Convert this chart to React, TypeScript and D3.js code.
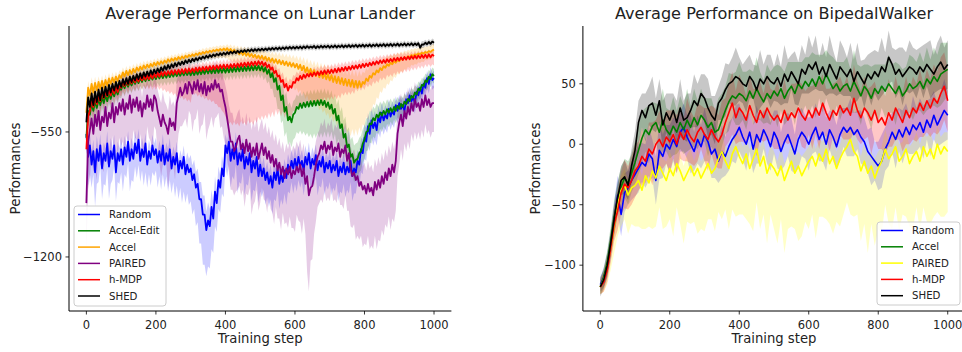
import React from "react";
import * as d3 from "d3";

// ================= DATA: Lunar Lander =================
// mean curves: steps 0..1000 every 5 ; band offsets: steps 0..1000 every 10
const llXTicks = [0, 200, 400, 600, 800, 1000];
const llYTicks = [-550, -1200];

const llRandomMean = [-560,-680,-620,-720,-650,-760,-640,-700,-620,-740,-660,-700,-610,-730,-650,-690,-620,-760,-660,-700,
-640,-720,-630,-680,-600,-700,-640,-690,-610,-660,-590,-700,-640,-680,-610,-720,-650,-690,-620,-670,
-640,-710,-650,-700,-620,-720,-660,-700,-640,-740,-680,-720,-660,-760,-700,-740,-680,-770,-720,-760,
-740,-800,-770,-840,-820,-900,-900,-980,-980,-1060,-1010,-1040,-940,-1000,-860,-920,-800,-840,-740,-780,
-620,-660,-600,-700,-640,-690,-610,-720,-660,-700,-640,-740,-680,-720,-660,-760,-700,-740,-680,-780,
-720,-780,-740,-800,-760,-820,-780,-840,-760,-800,-740,-820,-770,-810,-750,-790,-720,-760,-700,-740,
-690,-740,-680,-730,-700,-750,-680,-720,-660,-740,-690,-720,-670,-750,-700,-730,-680,-760,-710,-740,
-700,-760,-720,-750,-700,-780,-730,-760,-710,-770,-730,-760,-700,-780,-740,-760,-700,-720,-640,-660,
-580,-600,-520,-560,-490,-530,-500,-540,-470,-500,-450,-490,-460,-480,-430,-470,-440,-460,-410,-440,
-400,-430,-410,-440,-380,-400,-360,-390,-370,-400,-340,-360,-320,-350,-300,-320,-270,-300,-250,-280,
-270];
const llRandomUp = [60,70,60,70,60,55,65,70,55,60,65,
60,55,60,65,55,60,55,60,55,60,
55,60,55,60,55,60,55,60,65,70,
75,80,90,100,95,90,80,70,65,60,
60,55,60,55,60,55,60,55,60,55,
60,55,60,55,60,55,60,55,60,55,
60,55,60,55,60,55,60,55,60,55,
60,55,60,55,60,55,60,55,60,70,
70,65,60,55,55,50,50,48,46,44,
44,42,42,40,40,40,40,38,38,38];
const llRandomDn = [100,150,120,180,110,160,130,170,110,150,120,
140,110,160,120,130,110,150,120,140,110,
130,150,120,160,130,170,140,180,150,170,
180,200,230,260,240,220,180,150,130,110,
120,140,110,150,120,140,110,150,120,140,
110,130,120,140,110,130,120,140,110,130,
120,110,130,110,120,110,130,110,120,110,
120,110,130,110,120,110,130,110,120,110,
100,90,90,80,80,75,75,70,70,65,
65,60,60,55,55,55,50,50,50,50];

const llEditMean = [-580,-440,-460,-400,-440,-390,-425,-380,-410,-370,-400,-360,-390,-350,-378,-340,-365,-332,-355,-325,
-330,-300,-322,-294,-315,-288,-308,-282,-300,-276,-296,-270,-290,-266,-286,-262,-282,-260,-278,-256,
-275,-252,-272,-250,-270,-248,-268,-246,-265,-244,-262,-242,-260,-240,-258,-238,-256,-236,-254,-234,
-256,-234,-254,-232,-252,-230,-250,-228,-248,-226,-246,-224,-245,-222,-244,-220,-243,-219,-242,-218,
-242,-218,-240,-216,-238,-214,-236,-212,-235,-211,-234,-210,-232,-208,-231,-207,-230,-206,-228,-205,
-230,-208,-236,-214,-248,-226,-266,-244,-290,-270,-330,-310,-385,-360,-445,-420,-490,-470,-500,-460,
-450,-420,-430,-402,-425,-398,-420,-394,-418,-390,-415,-388,-412,-386,-410,-384,-410,-388,-420,-396,
-430,-408,-455,-430,-490,-465,-530,-510,-580,-560,-630,-615,-680,-665,-710,-695,-690,-660,-650,-610,
-590,-550,-545,-505,-510,-478,-490,-460,-475,-448,-465,-440,-458,-432,-450,-426,-445,-420,-440,-414,
-430,-404,-420,-392,-405,-378,-390,-362,-372,-345,-355,-325,-335,-305,-310,-282,-290,-262,-275,-250,
-258];
const llEditUp = [60,50,45,42,40,38,36,35,34,33,32,
32,31,30,30,30,29,29,28,28,28,
28,28,28,28,28,28,28,28,28,28,
28,28,28,28,28,28,28,28,28,28,
28,28,28,28,28,28,28,28,28,28,
30,32,40,50,60,70,80,80,75,70,
65,60,60,60,60,60,60,60,65,70,
75,80,85,90,90,90,90,85,80,75,
70,65,60,58,56,54,52,50,48,46,
44,42,40,40,38,38,36,36,35,35];
const llEditDn = [80,70,65,60,58,55,52,50,48,46,45,
44,43,42,42,42,42,42,42,42,42,
42,42,42,42,42,42,42,42,42,42,
42,42,42,42,42,42,42,42,42,42,
42,42,42,42,42,42,42,42,42,42,
45,50,60,80,100,120,130,130,130,130,
130,140,150,160,170,170,170,170,160,150,
140,130,120,110,100,100,100,100,100,100,
100,100,95,90,85,80,75,70,65,60,
58,56,54,52,50,48,46,44,42,40];

const llAccelMean = [-450,-320,-360,-300,-345,-295,-335,-290,-325,-285,-320,-280,-310,-272,-300,-268,-292,-262,-285,-255,
-270,-240,-262,-232,-255,-228,-248,-222,-240,-215,-232,-210,-226,-204,-220,-200,-215,-196,-210,-190,
-205,-186,-200,-182,-195,-178,-190,-172,-185,-168,-180,-165,-176,-160,-172,-157,-168,-153,-162,-150,
-158,-146,-155,-142,-150,-138,-146,-134,-142,-130,-138,-127,-134,-124,-130,-121,-128,-118,-126,-116,
-125,-114,-128,-118,-135,-122,-140,-128,-146,-132,-150,-136,-154,-140,-158,-144,-162,-148,-166,-152,
-170,-154,-174,-158,-180,-164,-186,-168,-190,-172,-194,-176,-198,-180,-202,-184,-206,-188,-210,-192,
-214,-196,-222,-200,-230,-206,-240,-214,-248,-222,-252,-228,-260,-234,-266,-240,-270,-246,-276,-250,
-282,-254,-290,-260,-296,-264,-300,-270,-306,-274,-310,-278,-314,-280,-318,-284,-320,-286,-316,-290,
-300,-272,-285,-258,-268,-244,-252,-230,-240,-218,-228,-208,-216,-198,-206,-190,-198,-182,-190,-176,
-182,-168,-175,-162,-168,-156,-162,-150,-156,-146,-150,-142,-146,-138,-142,-134,-138,-130,-134,-126,
-122];
const llAccelUp = [40,35,35,32,30,30,30,28,28,26,26,
26,25,25,25,24,24,24,23,23,22,
22,22,22,21,21,21,20,20,20,20,
20,20,20,20,20,20,20,20,20,20,
22,24,26,28,30,30,32,32,34,34,
36,36,38,38,40,40,40,42,42,44,
44,46,46,48,48,50,50,50,52,52,
52,54,54,55,55,55,56,56,56,55,
55,54,52,50,48,46,44,42,40,38,
36,35,34,33,32,31,30,30,30,30];
const llAccelDn = [60,55,55,50,50,48,46,45,44,42,40,
40,38,38,36,36,35,35,34,34,33,
33,32,32,31,31,30,30,30,30,30,
30,30,30,32,34,36,38,40,42,44,
50,55,60,60,65,65,70,70,72,75,
78,80,85,90,95,100,105,110,115,120,
125,130,140,145,150,160,170,180,190,200,
210,220,230,240,250,260,255,250,240,220,
200,180,160,140,120,110,100,90,80,70,
65,60,55,50,50,45,45,40,40,40];

const llPairedMean = [-920,-600,-540,-480,-560,-460,-520,-440,-540,-470,-500,-420,-520,-450,-480,-400,-500,-420,-460,-400,
-440,-380,-460,-400,-430,-360,-450,-380,-420,-370,-440,-390,-470,-400,-430,-360,-420,-380,-440,-360,
-380,-440,-480,-520,-460,-500,-520,-560,-480,-520,-500,-540,-400,-360,-320,-360,-340,-300,-350,-290,
-310,-350,-290,-330,-280,-340,-300,-350,-290,-360,-310,-340,-300,-330,-280,-320,-300,-340,-330,-380,
-420,-480,-540,-600,-600,-650,-630,-590,-570,-640,-610,-660,-590,-650,-610,-680,-630,-670,-610,-690,
-650,-610,-670,-630,-690,-650,-710,-670,-730,-690,-750,-710,-770,-730,-790,-740,-770,-730,-790,-750,
-770,-730,-760,-720,-780,-740,-820,-780,-880,-840,-830,-780,-720,-680,-660,-620,-640,-600,-660,-620,
-640,-600,-670,-630,-650,-610,-680,-640,-660,-620,-700,-660,-740,-780,-760,-800,-780,-830,-810,-850,
-830,-870,-820,-860,-840,-880,-810,-850,-800,-840,-780,-820,-760,-800,-740,-780,-720,-760,-700,-560,
-500,-460,-520,-440,-480,-420,-460,-400,-440,-380,-420,-400,-440,-380,-420,-360,-410,-380,-420,-400,
-400];
const llPairedUp = [150,130,120,120,120,110,110,120,110,110,110,
110,100,110,100,110,100,110,100,110,100,
110,120,110,120,110,120,110,100,100,100,
100,100,100,100,100,100,100,100,100,110,
130,150,150,140,140,140,140,140,140,140,
130,130,130,130,130,130,130,130,130,130,
130,130,130,130,130,120,120,120,120,120,
120,120,120,120,120,120,120,120,120,120,
120,120,120,120,120,120,120,120,120,120,
110,100,100,90,90,90,90,90,90,90];
const llPairedDn = [250,250,200,280,180,260,200,240,170,230,180,
220,170,230,160,220,170,240,160,220,160,
230,260,200,280,220,260,200,160,180,150,
200,150,220,160,230,170,200,150,190,200,
220,250,230,260,240,280,230,300,240,270,
230,280,240,300,250,290,240,280,260,300,
250,300,260,500,380,300,260,280,250,270,
240,270,250,290,260,300,270,310,280,300,
270,300,280,310,280,270,250,280,260,220,
180,170,180,160,170,150,160,150,160,150];

const llHmdpMean = [-640,-470,-440,-380,-420,-370,-405,-355,-390,-345,-375,-340,-365,-330,-360,-322,-350,-315,-342,-310,
-320,-288,-312,-282,-305,-276,-298,-270,-292,-266,-288,-260,-282,-258,-278,-254,-275,-250,-272,-248,
-265,-242,-262,-238,-258,-236,-255,-234,-252,-230,-250,-228,-248,-226,-246,-224,-244,-222,-242,-220,
-240,-220,-238,-216,-235,-214,-232,-212,-230,-210,-228,-208,-226,-206,-224,-204,-222,-202,-220,-200,
-220,-200,-218,-198,-216,-196,-214,-194,-212,-192,-210,-190,-208,-188,-206,-186,-204,-184,-202,-182,
-200,-184,-206,-190,-214,-200,-226,-214,-244,-232,-262,-256,-290,-280,-318,-300,-335,-310,-320,-290,
-295,-270,-282,-258,-275,-252,-268,-248,-262,-244,-260,-240,-256,-238,-254,-234,-250,-230,-248,-228,
-245,-226,-242,-222,-240,-218,-236,-216,-232,-212,-230,-210,-226,-206,-222,-204,-220,-200,-216,-196,
-212,-194,-208,-190,-204,-186,-200,-182,-196,-178,-192,-176,-190,-172,-186,-170,-184,-166,-180,-164,
-178,-162,-176,-160,-174,-158,-172,-156,-170,-154,-168,-152,-166,-150,-165,-148,-164,-146,-162,-148,
-155];
const llHmdpUp = [60,50,45,40,40,38,36,35,34,33,32,
32,31,30,30,30,29,29,28,28,28,
28,28,28,28,28,28,28,28,28,28,
28,28,28,28,28,28,28,28,28,28,
30,30,30,30,30,30,30,30,30,30,
30,30,32,34,36,38,40,40,38,36,
34,32,30,30,30,30,30,30,30,30,
30,30,30,30,30,30,30,30,30,30,
28,28,28,28,28,28,28,28,28,28,
26,26,26,26,26,26,26,26,26,26];
const llHmdpDn = [80,70,65,60,58,55,52,50,50,48,46,
46,45,45,45,46,48,50,55,60,65,
70,80,90,100,110,120,130,140,150,160,
120,130,140,150,160,170,180,200,220,250,
290,300,300,310,300,310,300,310,300,290,
280,270,250,230,200,180,160,150,150,150,
140,140,140,140,140,140,140,140,140,140,
140,140,140,130,130,130,130,120,120,120,
110,110,100,100,90,90,80,80,75,70,
70,65,65,60,60,55,55,50,50,50];

const llShedMean = [-500,-370,-420,-350,-410,-340,-395,-330,-385,-320,-370,-315,-360,-305,-345,-300,-335,-290,-325,-285,
-315,-275,-305,-270,-300,-262,-290,-258,-282,-250,-275,-245,-270,-240,-262,-236,-258,-230,-252,-226,
-245,-220,-240,-214,-232,-208,-226,-202,-220,-198,-214,-192,-208,-188,-202,-184,-198,-178,-192,-174,
-188,-170,-182,-166,-178,-162,-172,-158,-168,-154,-164,-150,-160,-147,-156,-144,-152,-140,-150,-138,
-148,-135,-145,-132,-142,-130,-140,-128,-138,-126,-135,-124,-133,-122,-131,-120,-130,-119,-128,-118,
-127,-117,-126,-116,-125,-114,-123,-113,-122,-112,-121,-111,-120,-110,-119,-109,-118,-108,-117,-108,
-116,-107,-115,-106,-116,-105,-114,-104,-113,-106,-112,-103,-114,-104,-112,-102,-111,-103,-110,-101,
-112,-102,-110,-100,-111,-101,-109,-99,-110,-100,-108,-98,-109,-99,-107,-97,-108,-98,-106,-96,
-107,-97,-105,-95,-106,-96,-104,-94,-105,-95,-103,-93,-104,-94,-102,-92,-103,-93,-101,-91,
-102,-92,-100,-90,-101,-91,-99,-89,-100,-90,-98,-88,-112,-95,-96,-86,-94,-82,-92,-80,
-86];
const llShedBand = [60,50,48,45,44,42,40,38,36,35,34,
33,32,31,30,30,29,28,27,26,26,
25,25,24,24,23,23,22,22,21,21,
20,20,20,19,19,19,18,18,18,18,
17,17,17,17,16,16,16,16,16,16,
15,15,15,15,15,15,15,15,15,15,
15,15,15,15,15,15,15,15,15,15,
15,15,15,15,15,15,15,15,15,15,
15,15,15,15,15,15,15,15,15,15,
15,15,15,15,15,15,18,16,16,16];

// ================= DATA: BipedalWalker (steps 0..1000, every 10) =================
const bwXTicks = [0, 200, 400, 600, 800, 1000];
const bwYTicks = [-100, -50, 0, 50];

const bwRandomMean = [-116,-110,-100,-84,-62,-42,-58,-40,-36,-30,-25,
-20,-15,-18,-8,-12,-30,-5,-10,0,-4,
4,-2,10,14,6,0,-6,4,-2,8,
2,-8,-4,-14,-6,-10,-2,4,8,14,
6,0,10,-4,8,2,12,6,-2,10,
4,-6,2,8,0,-8,4,10,6,0,
8,14,4,10,0,12,6,-2,8,14,
10,14,8,12,6,2,-6,-10,-14,-18,
-14,-4,2,10,4,12,6,14,8,16,
12,18,10,20,14,24,16,22,28,24];
const bwRandomBand = [6,8,10,12,14,16,18,16,14,16,18,
20,16,18,22,16,20,24,18,16,20,
18,22,16,20,18,24,16,20,18,22,
16,20,24,18,22,16,20,18,24,20,
18,22,16,20,24,18,16,22,20,18,
24,16,20,18,22,16,24,20,18,22,
16,20,18,24,22,16,20,18,22,16,
20,24,18,16,22,20,18,24,16,20,
22,18,20,16,24,18,22,20,16,24,
18,20,22,16,24,20,18,22,26,20];

const bwAccelMean = [-118,-110,-98,-80,-60,-45,-35,-28,-32,-24,-15,
-5,5,12,8,15,18,10,20,12,8,
15,10,18,12,20,14,22,16,24,20,
14,18,10,12,20,28,35,40,38,42,
40,36,44,38,46,40,35,42,38,44,
40,46,38,44,48,42,50,46,52,48,
54,48,56,50,58,52,46,50,44,48,
50,44,52,46,40,48,44,38,46,42,
48,44,50,46,42,48,40,44,50,46,
48,52,46,54,50,56,52,58,60,62];
const bwAccelBand = [6,8,10,12,14,14,16,16,18,16,18,
20,22,18,24,20,16,22,26,18,20,
24,18,22,20,26,18,24,20,22,18,
24,20,18,26,22,20,24,18,22,26,
20,24,18,22,26,20,18,24,22,20,
26,18,22,24,20,26,18,22,20,24,
22,26,18,24,20,22,26,18,24,20,
22,18,26,20,24,18,22,26,20,24,
18,22,24,20,26,18,22,20,24,26,
20,24,22,26,20,24,22,26,24,22];

const bwPairedMean = [-118,-112,-102,-86,-68,-50,-38,-34,-42,-36,-34,
-30,-38,-26,-32,-22,-28,-18,-24,-30,-20,
-26,-16,-22,-30,-24,-18,-26,-20,-28,-22,
-16,-24,-20,-12,-6,-14,-20,-8,-2,-10,
-16,-8,-20,-12,-4,-18,-10,-24,-16,-20,
-26,-18,-30,-22,-14,-24,-18,-26,-20,-14,
-10,-18,-8,-14,-4,-16,-10,-20,-12,-6,
-2,4,-6,-10,-22,-14,-24,-18,-28,-20,
-14,-4,-12,-8,-2,-14,-10,-4,-16,-10,
-6,-14,-2,-10,-4,-12,0,-8,-2,-6];
const bwPairedUp = [6,8,10,10,12,12,12,14,12,14,14,
14,12,16,14,12,16,14,12,16,14,
12,16,14,12,16,14,12,16,14,12,
16,14,12,16,14,12,16,14,12,16,
14,12,16,14,12,16,14,12,16,14,
12,16,14,12,16,14,12,16,14,12,
16,14,12,16,14,12,16,14,12,16,
14,12,16,14,12,16,14,12,16,14,
12,16,14,12,16,14,12,16,14,12,
16,14,12,16,14,12,16,14,12,16];
const bwPairedDn = [6,10,14,18,22,26,30,28,32,30,34,
38,32,44,36,48,40,34,46,38,42,
50,36,44,52,40,48,38,54,42,50,
46,38,52,44,56,40,50,46,58,48,
42,54,46,60,44,52,48,58,42,50,
56,44,60,48,54,46,62,50,44,56,
48,60,52,46,58,50,64,44,56,52,
46,62,54,48,58,52,66,48,56,50,
60,46,54,62,50,58,48,56,52,60,
46,58,50,54,62,48,56,52,58,50];

const bwHmdpMean = [-118,-114,-104,-86,-66,-55,-40,-33,-36,-30,-22,
-18,-10,-14,-4,-8,0,4,-2,6,2,
8,0,10,4,12,6,2,10,14,8,
4,12,6,2,8,18,26,34,22,30,
26,20,32,24,18,28,22,30,24,20,
24,18,28,20,26,22,30,24,20,28,
22,30,24,34,26,20,28,24,32,26,
30,24,38,28,22,30,26,20,28,18,
22,16,26,20,30,24,18,28,22,30,
26,34,28,36,30,38,34,42,48,36];
const bwHmdpBand = [6,8,10,12,14,16,18,20,18,20,22,
20,24,18,22,26,20,24,18,22,26,
20,24,22,18,26,22,20,24,18,22,
26,20,24,22,28,20,24,26,22,28,
24,20,26,22,28,24,20,26,22,24,
28,22,26,20,24,28,22,26,24,20,
26,22,28,24,20,26,22,28,24,22,
26,20,28,24,22,26,20,28,24,22,
26,24,28,22,26,20,24,28,22,26,
24,28,22,26,24,28,26,30,28,26];

const bwShedMean = [-118,-112,-100,-82,-62,-44,-30,-27,-34,-18,-5,
18,28,22,32,34,24,36,16,26,20,
28,18,30,20,22,28,36,32,42,38,
30,24,20,34,38,45,50,52,56,54,
50,48,56,52,45,54,50,56,52,50,
55,48,58,52,60,55,50,62,58,66,
62,68,58,64,56,66,60,54,64,60,
56,62,52,60,55,50,58,54,60,56,
64,60,72,66,58,62,56,60,64,62,
58,64,60,66,62,58,64,68,62,66];
const bwShedBand = [8,8,10,10,12,12,12,14,12,14,16,
18,14,20,16,22,14,18,20,16,22,
14,18,24,16,20,14,22,18,16,20,
24,16,20,14,18,22,16,20,24,18,
16,22,18,14,20,24,16,18,22,14,
20,16,24,18,14,22,18,20,16,24,
18,22,14,20,16,24,18,14,22,20,
16,22,18,24,14,20,16,22,18,20,
24,16,22,14,20,18,24,16,22,18,
20,16,22,18,24,16,20,22,18,20];

type Series = { name: string; color: string; mean: number[]; up: number[]; dn: number[] };

const llSeries: Series[] = [
  { name: "Random", color: "#0000ff", mean: llRandomMean, up: llRandomUp, dn: llRandomDn },
  { name: "Accel-Edit", color: "#008000", mean: llEditMean, up: llEditUp, dn: llEditDn },
  { name: "Accel", color: "#ffa500", mean: llAccelMean, up: llAccelUp, dn: llAccelDn },
  { name: "PAIRED", color: "#800080", mean: llPairedMean, up: llPairedUp, dn: llPairedDn },
  { name: "h-MDP", color: "#ff0000", mean: llHmdpMean, up: llHmdpUp, dn: llHmdpDn },
  { name: "SHED", color: "#000000", mean: llShedMean, up: llShedBand, dn: llShedBand },
];

const bwSeries: Series[] = [
  { name: "Random", color: "#0000ff", mean: bwRandomMean, up: bwRandomBand, dn: bwRandomBand },
  { name: "Accel", color: "#008000", mean: bwAccelMean, up: bwAccelBand, dn: bwAccelBand },
  { name: "PAIRED", color: "#ffff00", mean: bwPairedMean, up: bwPairedUp, dn: bwPairedDn },
  { name: "h-MDP", color: "#ff0000", mean: bwHmdpMean, up: bwHmdpBand, dn: bwHmdpBand },
  { name: "SHED", color: "#000000", mean: bwShedMean, up: bwShedBand, dn: bwShedBand },
];

const FONT = "'DejaVu Sans', sans-serif";
const TOP = 26;
const BOTTOM = 311;
const fmt = (v: number) => (v < 0 ? "\u2212" + Math.abs(v) : String(v));

type PanelProps = {
  title: string;
  series: Series[];
  xRange: [number, number];
  yDomain: [number, number];
  xTicks: number[];
  yTicks: number[];
  ylabelX: number;
  bandOpacity: number;
  lineWidth: number;
  legend: { x: number; y: number; w: number; h: number; first: number };
};

function Panel({ title, series, xRange, yDomain, xTicks, yTicks, ylabelX, bandOpacity, lineWidth, legend }: PanelProps) {
  const x = d3.scaleLinear().domain([-50, 1050]).range(xRange);
  const y = d3.scaleLinear().domain(yDomain).range([BOTTOM, TOP]);
  const x0 = xRange[0];
  const cx = (xRange[0] + xRange[1]) / 2;
  const stepOf = (i: number, n: number) => (i * 1000) / (n - 1);
  // band offsets may be sampled more coarsely than the mean curve
  const bandAt = (arr: number[], i: number, n: number) =>
    arr[Math.min(arr.length - 1, Math.round((i * (arr.length - 1)) / (n - 1)))] ?? 0;

  const bands = series.map((s) => {
    const n = s.mean.length;
    const area = d3
      .area<number>()
      .x((_, i) => x(stepOf(i, n)))
      .y0((v, i) => y(v - bandAt(s.dn, i, n)))
      .y1((v, i) => y(v + bandAt(s.up, i, n)));
    return area(s.mean) || "";
  });
  const lines = series.map((s) => {
    const n = s.mean.length;
    const line = d3
      .line<number>()
      .x((_, i) => x(stepOf(i, n)))
      .y((v) => y(v));
    return line(s.mean) || "";
  });

  const rowH = 16.3;
  return (
    <g fontFamily={FONT}>
      {bands.map((d, i) => (
        <path key={"b" + i} d={d} fill={series[i].color} fillOpacity={bandOpacity} stroke="none" />
      ))}
      {lines.map((d, i) => (
        <path key={"l" + i} d={d} fill="none" stroke={series[i].color} strokeWidth={lineWidth} strokeLinejoin="round" />
      ))}
      <line x1={x0} x2={x0} y1={TOP} y2={BOTTOM} stroke="#000" strokeWidth={1} />
      <line x1={x0} x2={xRange[1]} y1={BOTTOM} y2={BOTTOM} stroke="#000" strokeWidth={1} />
      {xTicks.map((t) => (
        <g key={"xt" + t}>
          <line x1={x(t)} x2={x(t)} y1={BOTTOM} y2={BOTTOM + 3.5} stroke="#000" strokeWidth={0.8} />
          <text x={x(t)} y={328.5} fontSize={11.5} textAnchor="middle" fill="#222">
            {fmt(t)}
          </text>
        </g>
      ))}
      {yTicks.map((t) => (
        <g key={"yt" + t}>
          <line x1={x0 - 3.5} x2={x0} y1={y(t)} y2={y(t)} stroke="#000" strokeWidth={0.8} />
          <text x={x0 - 7} y={y(t)} dy="0.35em" fontSize={11.5} textAnchor="end" fill="#222">
            {fmt(t)}
          </text>
        </g>
      ))}
      <text x={cx} y={343} fontSize={13.2} textAnchor="middle" fill="#222">
        Training step
      </text>
      <text
        transform={`translate(${ylabelX},${(TOP + BOTTOM) / 2}) rotate(-90)`}
        fontSize={13.4}
        textAnchor="middle"
        fill="#222"
      >
        Performances
      </text>
      <text x={cx} y={19} fontSize={16.1} textAnchor="middle" fill="#222">
        {title}
      </text>
      <rect
        x={legend.x}
        y={legend.y}
        width={legend.w}
        height={legend.h}
        rx={3}
        fill="#fff"
        fillOpacity={0.8}
        stroke="#cccccc"
        strokeWidth={1}
      />
      {series.map((s, i) => {
        const ry = legend.first + i * rowH;
        return (
          <g key={"lg" + i}>
            <line x1={legend.x + 4} x2={legend.x + 26} y1={ry} y2={ry} stroke={s.color} strokeWidth={1.5} />
            <text x={legend.x + 35} y={ry} dy="0.35em" fontSize={10.2} fill="#222">
              {s.name}
            </text>
          </g>
        );
      })}
    </g>
  );
}

export default function App() {
  return (
    <svg
      width={962}
      height={352}
      viewBox="0 0 962 352"
      style={{ position: "absolute", left: 0, top: 0, display: "block", background: "#fff" }}
    >
      <rect x={0} y={0} width={962} height={352} fill="#fff" />
      <Panel
        title="Average Performance on Lunar Lander"
        series={llSeries}
        xRange={[69, 451.4]}
        yDomain={[-1481, 1]}
        xTicks={llXTicks}
        yTicks={llYTicks}
        ylabelX={20}
        bandOpacity={0.2}
        lineWidth={1.8}
        legend={{ x: 74, y: 206, w: 92, h: 100, first: 214.5 }}
      />
      <Panel
        title="Average Performance on BipedalWalker"
        series={bwSeries}
        xRange={[582.9, 965.1]}
        yDomain={[-137.9, 97.8]}
        xTicks={bwXTicks}
        yTicks={bwYTicks}
        ylabelX={540}
        bandOpacity={0.22}
        lineWidth={1.6}
        legend={{ x: 877, y: 222, w: 83, h: 83, first: 230.5 }}
      />
    </svg>
  );
}
